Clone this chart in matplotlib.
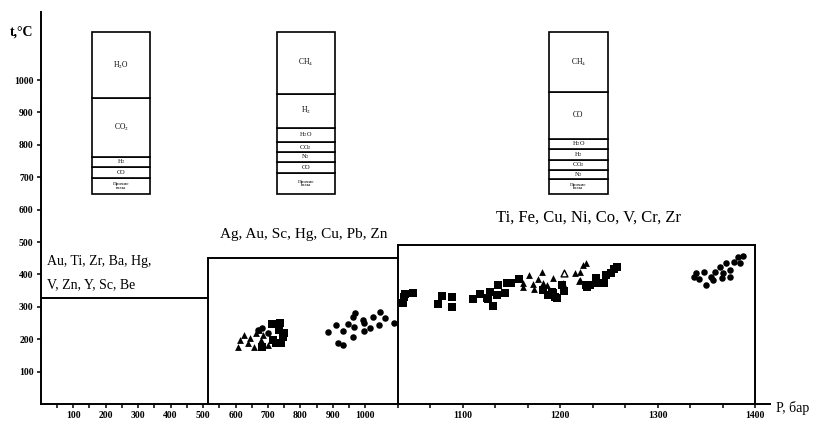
import numpy as np
import matplotlib

matplotlib.use("Agg")
import matplotlib.pyplot as plt

# pressure axis is compressed below 1000 bar, stretched above
def _fwd(p):
    p = np.asarray(p, dtype=float)
    return np.where(p <= 1000, p, 1000 + (p - 1000) * 3.0)


def _inv(u):
    u = np.asarray(u, dtype=float)
    return np.where(u <= 1000, u, 1000 + (u - 1000) / 3.0)


# ---- data -------------------------------------------------------------
region_p_bounds = [0, 516, 1033, 1400]
region_t_max = [328, 450, 490]
region_elements = [
    "Au, Ti, Zr, Ba, Hg,\nV, Zn, Y, Sc, Be",
    "Ag, Au, Sc, Hg, Cu, Pb, Zn",
    "Ti, Fe, Cu, Ni, Co, V, Cr, Zr",
]

# gas composition (%, bottom to top)
gas1_names = ["Прочие\nгазы", "CO", "H$_2$", "CO$_2$", "H$_2$O"]
gas1_pct = [10, 7, 6, 36, 41]
gas2_names = ["Прочие\nгазы", "CO", "N$_2$", "CO$_2$", "H$_2$O", "H$_2$", "CH$_4$"]
gas2_pct = [13, 7, 6, 6, 9, 21, 38]
gas3_names = ["Прочие\nгазы", "N$_2$", "CO$_2$", "H$_2$", "H$_2$O", "CO", "CH$_4$"]
gas3_pct = [9, 6, 6, 7, 6, 29, 37]

tri_p = [609, 615, 625, 637, 646, 656, 662, 677, 671, 686, 699,
         1155, 1162, 1162, 1168, 1172, 1173, 1177, 1181, 1182, 1186, 1192,
         1203, 1215, 1219, 1220, 1223, 1226, 1220]
tri_t = [176, 198, 213, 188, 204, 176, 219, 198, 228, 213, 182,
         386, 373, 361, 398, 370, 355, 386, 407, 373, 367, 389,
         373, 404, 380, 407, 429, 435, 383]
open_tri_p = [1204]
open_tri_t = [404]

sq_p = [711, 736, 733, 745, 739, 724, 714, 683, 748,
        1039, 1040, 1041, 1049, 1074, 1079, 1089, 1089, 1110, 1117, 1125,
        1128, 1126, 1131, 1135, 1136, 1143, 1145, 1149, 1158,
        1182, 1187, 1191, 1194, 1197, 1192, 1204, 1202, 1227, 1226, 1230,
        1237, 1237, 1245, 1247, 1252, 1255, 1258]
sq_t = [247, 250, 228, 207, 188, 188, 198, 176, 219,
        312, 330, 340, 343, 309, 333, 330, 299, 324, 340, 327,
        346, 324, 302, 336, 367, 343, 373, 373, 386,
        352, 336, 346, 330, 327, 343, 349, 367, 361, 367, 367,
        373, 389, 373, 398, 404, 417, 423]

circ_p = [668, 683, 699,
          884, 909, 930, 946, 961, 967, 964, 961, 992, 995, 995, 1005,
          1008, 1015, 1014, 1020, 1029, 915, 930,
          1337, 1339, 1342, 1347, 1349, 1354, 1357, 1359, 1364, 1367,
          1366, 1370, 1374, 1374, 1378, 1382, 1384, 1387]
circ_t = [228, 235, 219,
          222, 244, 225, 247, 269, 281, 238, 207, 259, 250, 225, 235,
          269, 284, 244, 265, 250, 188, 182,
          392, 404, 386, 407, 367, 392, 383, 407, 423, 404,
          389, 435, 414, 392, 438, 454, 435, 457]

x_major = [100, 200, 300, 400, 500, 600, 700, 800, 900, 1000,
           1100, 1200, 1300, 1400]
y_major = [100, 200, 300, 400, 500, 600, 700, 800, 900, 1000]

# ---- figure -----------------------------------------------------------
plt.rcParams["font.family"] = ["Liberation Serif", "DejaVu Serif"]
plt.rcParams["mathtext.fontset"] = "stix"

fig = plt.figure(figsize=(8.18, 4.25), dpi=100)
ax = fig.add_axes([0.0496, 0.0494, 0.8917, 0.9224])
ax.set_xscale("function", functions=(_fwd, _inv))
ax.set_xlim(0, 1415)
ax.set_ylim(0, 1210)

ax.spines[["top", "right"]].set_visible(False)
ax.spines[["left", "bottom"]].set_linewidth(1.4)

ax.set_xticks(x_major)
ax.set_xticklabels([str(v) for v in x_major], fontsize=7, fontweight="bold")
minor = list(np.arange(50, 1000, 100)) + [1033.3, 1066.7, 1133.3, 1166.7,
                                          1233.3, 1266.7, 1333.3, 1366.7]
ax.set_xticks(minor, minor=True)
ax.set_yticks(y_major)
ax.set_yticklabels([str(v) for v in y_major], fontsize=7, fontweight="bold")
ax.tick_params(axis="both", which="both", direction="out", length=3, width=1.1, pad=2)

ax.text(-0.042, 0.949, "t,°C", transform=ax.transAxes, fontsize=10,
        fontweight="bold", ha="left", va="center")
ax.text(1.008, -0.01, "P, бар", transform=ax.transAxes, fontsize=10,
        ha="left", va="center")

# element regions
for i, t_max in enumerate(region_t_max):
    p0, p1 = region_p_bounds[i], region_p_bounds[i + 1]
    ax.plot([p0, p1], [t_max, t_max], color="black", lw=1.4)
    if i > 0:
        ax.plot([p0, p0], [0, max(t_max, region_t_max[i - 1])], color="black", lw=1.4)
ax.plot([region_p_bounds[-1]] * 2, [0, region_t_max[-1]], color="black", lw=1.4)

label_style = [(20, 405, "left", 10), (810, 522, "center", 11),
               (1229, 574, "center", 12)]
for (lx, ly, ha, fs), txt in zip(label_style, region_elements):
    ax.text(lx, ly, txt, fontsize=fs, ha=ha, va="center", linespacing=2.0)

# gas composition boxes
box_bottom, box_scale = 648, 5.0
boxes = [(159, 179, gas1_names, gas1_pct),
         (727, 179, gas2_names, gas2_pct),
         (1188, 61, gas3_names, gas3_pct)]
for left, width, names, pcts in boxes:
    bottom = box_bottom
    for name, pct in zip(names, pcts):
        h = pct * box_scale
        ax.bar(left, h, width=width, bottom=bottom, align="edge",
               facecolor="white", edgecolor="black", linewidth=1.2)
        xc = float(_inv((_fwd(left) + _fwd(left + width)) / 2))
        fs = 5.5 if pct >= 15 else 4.5
        if "\n" in name:
            fs = 3.8
        ax.text(xc, bottom + h / 2, name, fontsize=fs, ha="center", va="center",
                linespacing=0.8)
        bottom += h

# measurements
ax.scatter(tri_p, tri_t, marker="^", s=24, color="black", linewidths=0)
ax.scatter(open_tri_p, open_tri_t, marker="^", s=24, facecolor="white",
           edgecolor="black", linewidths=1.0)
ax.scatter(sq_p, sq_t, marker="s", s=26, color="black", linewidths=0)
ax.scatter(circ_p, circ_t, marker="o", s=22, color="black", linewidths=0)

fig.savefig("out.png", dpi=100)
